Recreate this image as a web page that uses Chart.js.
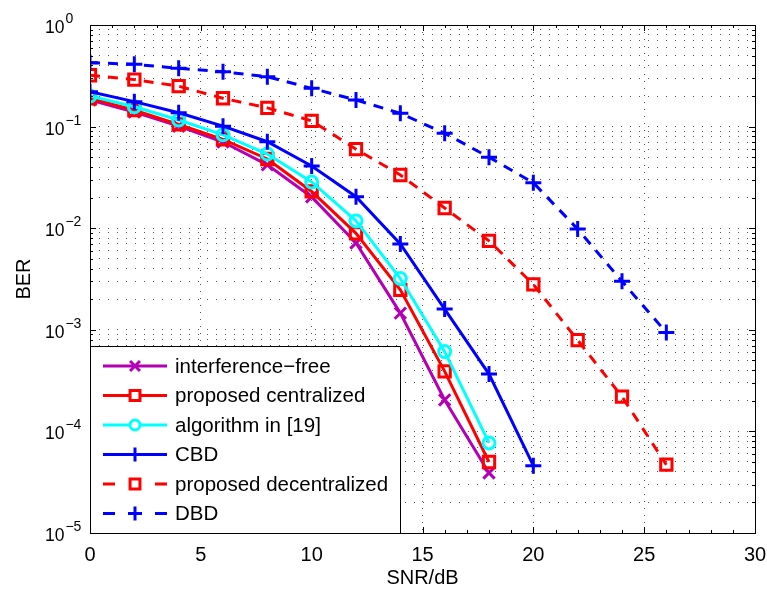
<!DOCTYPE html>
<html><head><meta charset="utf-8">
<script src="https://cdn.jsdelivr.net/npm/chart.js@4/dist/chart.umd.min.js"></script>
<style>html,body{margin:0;padding:0;background:#fff}#wrap{width:767px;height:589px}</style>
</head><body><div id="wrap"><canvas id="c" width="767" height="589"></canvas></div>
<script>
const snrShort = [0, 2, 4, 6, 8, 10, 12, 14, 16, 18];
const snrCBD = [0, 2, 4, 6, 8, 10, 12, 14, 16, 18, 20];
const snrLong = [0, 2, 4, 6, 8, 10, 12, 14, 16, 18, 20, 22, 24, 26];
const interferenceFree = [0.183, 0.139, 0.101, 0.0705, 0.042, 0.0203, 0.00715, 0.00146, 2.04e-4, 3.9e-5];
const proposedCentralized = [0.19, 0.145, 0.105, 0.075, 0.048, 0.023, 0.0089, 0.00247, 3.9e-4, 5.0e-5];
const algorithm19 = [0.2, 0.157, 0.116, 0.083, 0.0537, 0.0285, 0.0118, 0.0032, 6.1e-4, 7.7e-5];
const cbd = [0.22, 0.176, 0.137, 0.101, 0.071, 0.041, 0.0204, 0.0070, 1.6e-3, 3.67e-4, 4.6e-5];
const proposedDecentralized = [0.32, 0.29, 0.25, 0.19, 0.153, 0.114, 0.060, 0.0334, 0.0158, 0.0075, 0.0028, 7.9e-4, 2.2e-4, 4.7e-5];
const dbd = [0.426, 0.41, 0.375, 0.347, 0.31, 0.238, 0.183, 0.135, 0.086, 0.05, 0.028, 0.0098, 0.003, 9.4e-4];
const seriesNames = ['interference\u2212free', 'proposed centralized', 'algorithm in [19]', 'CBD', 'proposed decentralized', 'DBD'];
const xTicks = [0, 5, 10, 15, 20, 25, 30];
const yExponents = [0, -1, -2, -3, -4, -5];

const FONT = '"Liberation Sans", Arial, Helvetica, sans-serif';
function pts(xs, ys) { return xs.map((x, i) => ({ x: x, y: ys[i] })); }

const styles = [
  { color: '#b400b4', pointStyle: 'crossRot', radius: 8, dash: [] },
  { color: '#ff0000', pointStyle: 'rect', radius: 8, dash: [] },
  { color: '#00ffff', pointStyle: 'circle', radius: 6, dash: [] },
  { color: '#0000ff', pointStyle: 'cross', radius: 8, dash: [] },
  { color: '#ff0000', pointStyle: 'rect', radius: 8, dash: [10, 8] },
  { color: '#0000ff', pointStyle: 'cross', radius: 8, dash: [10, 8] }
];
const seriesData = [
  pts(snrShort, interferenceFree),
  pts(snrShort, proposedCentralized),
  pts(snrShort, algorithm19),
  pts(snrCBD, cbd),
  pts(snrLong, proposedDecentralized),
  pts(snrLong, dbd)
];

const datasets = seriesData.map((d, i) => ({
  label: seriesNames[i],
  data: d,
  borderColor: styles[i].color,
  backgroundColor: styles[i].color,
  borderWidth: 3,
  borderDash: styles[i].dash,
  pointStyle: styles[i].pointStyle,
  pointRadius: styles[i].radius,
  pointBorderWidth: 3,
  pointBorderColor: styles[i].color,
  pointBackgroundColor: 'rgba(0,0,0,0)',
  tension: 0,
  fill: false,
  order: 6 - i
}));

const yTickValues = [];
for (let e = -5; e < 0; e++) for (let k = 1; k <= 9; k++) yTickValues.push(k * Math.pow(10, e));
yTickValues.push(1);

const framePlugin = {
  id: 'frame',
  afterDraw(chart) {
    const ctx = chart.ctx, ca = chart.chartArea;
    const xs = chart.scales.x, ys = chart.scales.y;
    ctx.save();
    // box
    ctx.strokeStyle = '#000'; ctx.lineWidth = 1; ctx.setLineDash([]);
    ctx.strokeRect(Math.round(ca.left) + 0.5, Math.round(ca.top) + 0.5, Math.round(ca.right - ca.left), Math.round(ca.bottom - ca.top));
    // ticks
    ctx.beginPath();
    for (let v = 0; v <= 30; v++) {
      const px = Math.round(xs.getPixelForValue(v)) + 0.5;
      const len = (v % 5 === 0) ? 6 : 3;
      ctx.moveTo(px, ca.bottom); ctx.lineTo(px, ca.bottom - len);
      ctx.moveTo(px, ca.top); ctx.lineTo(px, ca.top + len);
    }
    yTickValues.forEach(v => {
      const py = Math.round(ys.getPixelForValue(v)) + 0.5;
      const major = Math.abs(Math.log10(v) - Math.round(Math.log10(v))) < 1e-9;
      const len = major ? 6 : 3;
      ctx.moveTo(ca.left, py); ctx.lineTo(ca.left + len, py);
      ctx.moveTo(ca.right, py); ctx.lineTo(ca.right - len, py);
    });
    ctx.stroke();
    // x tick labels
    ctx.fillStyle = '#000';
    ctx.font = '20px ' + FONT;
    ctx.textAlign = 'center'; ctx.textBaseline = 'middle';
    xTicks.forEach(v => ctx.fillText(String(v), xs.getPixelForValue(v), 555));
    // y tick labels 10^e
    yExponents.forEach(e => {
      const py = ys.getPixelForValue(Math.pow(10, e));
      const expStr = e === 0 ? '0' : '\u2212' + String(-e);
      const left = 45;
      ctx.textAlign = 'left'; ctx.textBaseline = 'alphabetic';
      ctx.save();
      ctx.font = '19px ' + FONT;
      const bw = ctx.measureText('10').width * 0.92;
      ctx.translate(left, py + 8);
      ctx.scale(0.92, 1);
      ctx.fillText('10', 0, 0);
      ctx.restore();
      ctx.font = '14px ' + FONT;
      ctx.fillText(expStr, left + bw + 1, py - 2);
    });
    // axis titles
    ctx.font = '20px ' + FONT;
    ctx.textAlign = 'center'; ctx.textBaseline = 'middle';
    ctx.fillText('SNR/dB', (ca.left + ca.right) / 2, 578);
    ctx.save();
    ctx.translate(24, (ca.top + ca.bottom) / 2);
    ctx.rotate(-Math.PI / 2);
    ctx.fillText('BER', 0, 0);
    ctx.restore();
    // legend
    const lx = Math.round(ca.left) + 0.5, ly = 346.5, lw = 310, lh = Math.round(ca.bottom) - 346;
    ctx.fillStyle = '#fff';
    ctx.fillRect(lx, ly, lw, lh);
    ctx.strokeStyle = '#000'; ctx.lineWidth = 1;
    ctx.strokeRect(lx, ly, lw, lh);
    chart.data.datasets.forEach((ds, i) => {
      const ry = 366 + i * 29.5;
      ctx.strokeStyle = ds.borderColor; ctx.lineWidth = 3;
      ctx.setLineDash([]);
      ctx.beginPath();
      if (ds.borderDash.length) {
        ctx.moveTo(103, ry); ctx.lineTo(115, ry);
        ctx.moveTo(155, ry); ctx.lineTo(167, ry);
      } else {
        ctx.moveTo(103, ry); ctx.lineTo(167, ry);
      }
      ctx.stroke();
      ctx.fillStyle = '#fff';
      ctx.strokeStyle = ds.borderColor;
      Chart.helpers.drawPoint(ctx, { pointStyle: ds.pointStyle, radius: ds.pointStyle === 'circle' ? 5 : 7, borderWidth: 3, rotation: 0 }, 135, ry);
      ctx.fillStyle = '#000';
      ctx.font = '20.5px ' + FONT;
      ctx.textAlign = 'left'; ctx.textBaseline = 'middle';
      ctx.fillText(ds.label, 175, ry + 1);
    });
    ctx.restore();
  }
};

new Chart(document.getElementById('c'), {
  type: 'line',
  data: { datasets: datasets },
  options: {
    responsive: false,
    animation: false,
    devicePixelRatio: 1,
    layout: { padding: { left: 90, right: 12, top: 25, bottom: 56 } },
    plugins: { legend: { display: false }, tooltip: { enabled: false } },
    scales: {
      x: {
        type: 'linear', min: 0, max: 30,
        ticks: { display: false, stepSize: 5 },
        grid: { color: '#555', lineWidth: 1, drawTicks: false },
        border: { display: false, dash: [1, 6] }
      },
      y: {
        type: 'logarithmic', min: 1e-5, max: 1,
        afterBuildTicks: (scale) => { scale.ticks = yTickValues.map(v => ({ value: v })); },
        ticks: { display: false },
        grid: { color: '#555', lineWidth: 1, drawTicks: false },
        border: { display: false, dash: [1, 8] }
      }
    }
  },
  plugins: [framePlugin]
});
</script>
</body></html>
